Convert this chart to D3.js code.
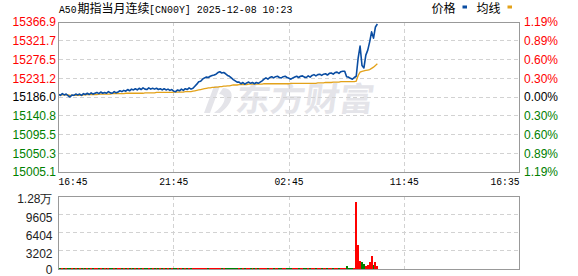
<!DOCTYPE html>
<html>
<head>
<meta charset="utf-8">
<script src="https://cdn.jsdelivr.net/npm/d3@7"></script>
<style>
  html, body { margin: 0; padding: 0; background: #fff; }
  #chart svg { display: block; }
</style>
</head>
<body>
<div id="chart"></div>
<script>
// time axis: minutes since 16:45, one sample every 5 minutes
var stepMinutes = 5;
var xTickMinutes = [0, 300, 600, 900, 1200];
var xTickLabels = ['16:45', '21:45', '02:45', '11:45', '16:35'];

var prevClose = 15186.0;
var priceTicks = [15366.9, 15321.7, 15276.5, 15231.2, 15186.0, 15140.8, 15095.5, 15050.3, 15005.1];
var percentTickLabels = ['1.19%', '0.89%', '0.60%', '0.30%', '0.00%', '0.30%', '0.60%', '0.89%', '1.19%'];

var volumeTicks = [0, 3202, 6404, 9605, 12807];
var volumeTickLabels = ['0', '3202', '6404', '9605', '1.28万'];

var legendNames = ['价格', '均线'];
var titleParts = ['A50', '期指当月连续', '[CN00Y] 2025-12-08 10:23'];

var prices = [
    15192, 15190, 15194, 15191, 15193, 15189, 15186, 15191, 15190, 15193,
    15191, 15193, 15190, 15194, 15192, 15195, 15192, 15196, 15193, 15195,
    15197, 15194, 15198, 15195, 15197, 15195, 15199, 15196, 15195, 15199,
    15196, 15198, 15201, 15199, 15202, 15200, 15204, 15201, 15205, 15203,
    15206, 15203, 15207, 15204, 15208, 15205, 15204, 15208, 15205, 15207,
    15205, 15207, 15204, 15206, 15203, 15206, 15203, 15205, 15202, 15204,
    15200, 15199, 15203, 15201, 15205, 15202, 15206, 15204, 15208, 15205,
    15207, 15212, 15217, 15223, 15224, 15229, 15232, 15234, 15233, 15236,
    15238, 15239, 15241, 15245, 15247, 15244, 15245, 15242, 15238, 15236,
    15232, 15228, 15225, 15222, 15222, 15218, 15221, 15217, 15220, 15222,
    15219, 15221, 15218, 15221, 15219, 15222, 15225, 15229, 15232, 15229,
    15233, 15235, 15232, 15235, 15236, 15233, 15232, 15235, 15236, 15233,
    15231, 15229, 15232, 15234, 15236, 15233, 15236, 15237, 15234, 15233,
    15237, 15234, 15238, 15240, 15237, 15240, 15241, 15238, 15241, 15242,
    15239, 15243, 15244, 15241, 15245, 15246, 15243, 15247, 15248, 15248,
    15235, 15234, 15231, 15229, 15233, 15236, 15280, 15309, 15262, 15256,
    15287, 15299, 15319, 15343, 15328, 15355, 15362
];

var avgPrices = [
    15192, 15191, 15191, 15191, 15191, 15191, 15190, 15190, 15190, 15190,
    15190, 15190, 15190, 15191, 15191, 15192, 15192, 15192, 15192, 15192,
    15192, 15193, 15193, 15193, 15193, 15193, 15193, 15193, 15194, 15194,
    15194, 15194, 15194, 15194, 15194, 15195, 15195, 15195, 15195, 15195,
    15195, 15195, 15195, 15195, 15195, 15196, 15196, 15196, 15196, 15196,
    15196, 15197, 15197, 15197, 15197, 15197, 15197, 15197, 15197, 15197,
    15198, 15198, 15198, 15198, 15198, 15198, 15199, 15199, 15199, 15199,
    15200, 15201, 15202, 15203, 15204, 15205, 15206, 15207, 15208, 15208,
    15209, 15209, 15210, 15210, 15211, 15211, 15212, 15212, 15213, 15213,
    15214, 15215, 15215, 15215, 15216, 15216, 15216, 15216, 15216, 15217,
    15217, 15217, 15217, 15217, 15217, 15217, 15217, 15218, 15218, 15218,
    15218, 15218, 15218, 15218, 15218, 15218, 15218, 15218, 15218, 15218,
    15218, 15219, 15219, 15219, 15219, 15219, 15219, 15219, 15219, 15219,
    15219, 15219, 15219, 15219, 15219, 15220, 15220, 15220, 15220, 15221,
    15221, 15221, 15221, 15222, 15222, 15222, 15222, 15223, 15223, 15223,
    15223, 15223, 15223, 15223, 15223, 15224, 15238, 15246, 15248, 15249,
    15250, 15251, 15252, 15255, 15258, 15262, 15266
];

var volumes = [
    320, 240, 210, 190, 180, 220, 260, 190, 180, 210,
    190, 180, 200, 180, 210, 190, 180, 220, 180, 200,
    190, 210, 180, 180, 200, 190, 220, 180, 180, 210,
    190, 200, 230, 220, 180, 210, 200, 190, 220, 210,
    180, 190, 200, 180, 210, 180, 180, 190, 180, 200,
    180, 180, 190, 180, 180, 180, 190, 180, 180, 200,
    210, 190, 180, 180, 190, 180, 200, 190, 210, 180,
    210, 220, 230, 220, 200, 210, 200, 190, 180, 200,
    210, 190, 200, 220, 200, 190, 180, 190, 200, 190,
    200, 190, 180, 190, 180, 200, 180, 190, 180, 200,
    180, 180, 190, 180, 180, 180, 210, 220, 210, 190,
    200, 190, 180, 180, 190, 180, 180, 180, 190, 180,
    180, 190, 180, 180, 190, 180, 180, 190, 180, 180,
    190, 180, 180, 200, 190, 180, 190, 180, 180, 190,
    180, 200, 190, 180, 200, 190, 180, 210, 200, 220,
    520, 230, 250, 220, 240, 11800, 4200, 1400, 1300, 900,
    550, 700, 1250, 2300, 700, 1300, 600
];

(function(d3) {
    'use strict';

    var settings = {
        width: 578,
        height: 276,
        left: 58.5,
        right: 519.5,
        priceTop: 22,
        priceBottom: 172,
        volumeTop: 196,
        volumeBottom: 269,
        border: '#999',
        grid: '#d2d2d2',
        up: '#ff0000',
        flat: '#000000',
        down: '#008000',
        priceColor: '#0a4da2',
        avgColor: '#e3a21a',
        numFont: '"Liberation Sans", Arial, sans-serif',
        monoFont: '"Liberation Mono", "DejaVu Sans Mono", monospace',
        cjkFont: '"Noto Sans CJK SC", sans-serif'
    };

    var svg = d3.select('#chart').append('svg')
        .attr('width', settings.width)
        .attr('height', settings.height);

    var x = d3.scaleLinear()
        .domain([xTickMinutes[0], xTickMinutes[xTickMinutes.length - 1]])
        .range([settings.left, settings.right]);

    var y = d3.scaleLinear()
        .domain([priceTicks[priceTicks.length - 1], priceTicks[0]])
        .range([settings.priceBottom, settings.priceTop]);

    var yVol = d3.scaleLinear()
        .domain([0, volumeTicks[volumeTicks.length - 1]])
        .range([settings.volumeBottom, settings.volumeTop]);

    function crisp(v) {
        return Math.floor(v) + 0.5;
    }

    function tickColor(v) {
        if (Math.abs(v - prevClose) < 0.05) return settings.flat;
        return v > prevClose ? settings.up : settings.down;
    }

    // title: half-width parts in a narrow mono, CJK in full-width cells
    var titleX = 59;
    titleParts.forEach(function(part) {
        var isCjk = /[\u4e00-\u9fff]/.test(part);
        var w = isCjk ? part.length * 12 : part.length * 6;
        var t = svg.append('text')
            .attr('x', isCjk ? titleX + 0.5 : titleX)
            .attr('y', 13)
            .style('font-family', isCjk ? settings.cjkFont : settings.monoFont)
            .style('font-size', isCjk ? '12px' : '11px')
            .attr('fill', '#000')
            .text(part);
        if (!isCjk) {
            t.attr('textLength', w - 0.5).attr('lengthAdjust', 'spacingAndGlyphs');
        }
        titleX += w;
    });

    // legend
    var legendX = [431.5, 476.5];
    var legendColors = [settings.priceColor, settings.avgColor];
    legendNames.forEach(function(name, i) {
        svg.append('text')
            .attr('x', legendX[i])
            .attr('y', 13)
            .style('font-family', settings.cjkFont)
            .style('font-size', '12px')
            .attr('fill', '#000')
            .text(name);
        svg.append('rect')
            .attr('x', legendX[i] + 31)
            .attr('y', 5.5)
            .attr('width', 4.5)
            .attr('height', 3)
            .attr('fill', legendColors[i]);
    });

    // watermark
    var mark = svg.append('g').attr('fill', '#e4e4e9');
    mark.append('path')
        .attr('d', 'M214,86 L220,86 L210,113 L204,113 Z M223,88 C236,88 234,104 220,113 L214,113 C226,104 228,95 219,94 Z');
    mark.append('text')
        .attr('x', 236)
        .attr('y', 111)
        .attr('transform', 'skewX(-8) translate(14,0)')
        .style('font-family', settings.cjkFont)
        .style('font-size', '33px')
        .style('font-weight', 'bold')
        .attr('textLength', 138)
        .attr('lengthAdjust', 'spacingAndGlyphs')
        .text('东方财富');

    var grid = svg.append('g')
        .attr('stroke', settings.grid)
        .attr('stroke-dasharray', '4,3')
        .attr('shape-rendering', 'crispEdges');

    // vertical grid, both panels
    xTickMinutes.slice(1, -1).forEach(function(m) {
        var gx = crisp(x(m));
        grid.append('line').attr('x1', gx).attr('x2', gx)
            .attr('y1', settings.priceTop).attr('y2', settings.priceBottom);
        grid.append('line').attr('x1', gx).attr('x2', gx)
            .attr('y1', settings.volumeTop).attr('y2', settings.volumeBottom);
    });

    priceTicks.slice(1, -1).forEach(function(v) {
        var gy = crisp(y(v));
        grid.append('line').attr('x1', settings.left).attr('x2', settings.right)
            .attr('y1', gy).attr('y2', gy);
    });

    volumeTicks.slice(1, -1).forEach(function(v) {
        var gy = crisp(yVol(v));
        grid.append('line').attr('x1', settings.left).attr('x2', settings.right)
            .attr('y1', gy).attr('y2', gy);
    });

    // price axis labels
    svg.append('g').selectAll('text')
        .data(priceTicks)
        .enter()
        .append('text')
        .attr('x', 56)
        .attr('y', function(d) { return y(d); })
        .attr('dy', '0.36em')
        .attr('text-anchor', 'end')
        .style('font-family', settings.numFont)
        .style('font-size', '12px')
        .attr('fill', tickColor)
        .text(function(d) { return d.toFixed(1); });

    svg.append('g').selectAll('text')
        .data(priceTicks)
        .enter()
        .append('text')
        .attr('x', 524)
        .attr('y', function(d) { return y(d); })
        .attr('dy', '0.36em')
        .style('font-family', settings.numFont)
        .style('font-size', '12px')
        .attr('fill', tickColor)
        .text(function(d, i) { return percentTickLabels[i]; });

    // volume axis labels, sitting a little under their grid lines
    svg.append('g').selectAll('text')
        .data(volumeTicks)
        .enter()
        .append('text')
        .attr('x', 52.5)
        .attr('y', function(d, i) { return yVol(d) + (i === 0 ? 1 : 3); })
        .attr('dy', '0.36em')
        .attr('text-anchor', 'end')
        .style('font-family', settings.numFont)
        .style('font-size', '12px')
        .attr('fill', '#222')
        .text(function(d, i) { return volumeTickLabels[i]; });

    // time labels
    svg.append('g').selectAll('text')
        .data(xTickMinutes)
        .enter()
        .append('text')
        .attr('x', function(d) { return x(d); })
        .attr('y', 185)
        .attr('text-anchor', function(d, i) {
            if (i === 0) return 'start';
            if (i === xTickMinutes.length - 1) return 'end';
            return 'middle';
        })
        .style('font-family', settings.monoFont)
        .style('font-size', '11px')
        .attr('textLength', 29)
        .attr('lengthAdjust', 'spacingAndGlyphs')
        .attr('fill', '#000')
        .text(function(d, i) { return xTickLabels[i]; });

    // volume bars
    var barW = x(stepMinutes) - x(0);
    svg.append('g')
        .attr('shape-rendering', 'crispEdges')
        .selectAll('rect')
        .data(volumes)
        .enter()
        .append('rect')
        .attr('x', function(d, i) { return x(i * stepMinutes) - barW / 2; })
        .attr('y', function(d) { return yVol(d); })
        .attr('width', barW)
        .attr('height', function(d) { return settings.volumeBottom - yVol(d); })
        .attr('fill', function(d, i) {
            return (i === 0 || prices[i] >= prices[i - 1]) ? settings.up : settings.down;
        });

    // lines
    var line = d3.line()
        .x(function(d, i) { return x(i * stepMinutes); })
        .y(function(d) { return y(d); });

    svg.append('path')
        .datum(avgPrices)
        .attr('fill', 'none')
        .attr('stroke', settings.avgColor)
        .attr('stroke-width', 1.3)
        .attr('d', line);

    svg.append('path')
        .datum(prices)
        .attr('fill', 'none')
        .attr('stroke', settings.priceColor)
        .attr('stroke-width', 1.6)
        .attr('stroke-linejoin', 'round')
        .attr('d', line);

    // panel borders
    [[settings.priceTop, settings.priceBottom], [settings.volumeTop, settings.volumeBottom]].forEach(function(p) {
        svg.append('rect')
            .attr('x', crisp(settings.left))
            .attr('y', crisp(p[0]))
            .attr('width', Math.round(settings.right - settings.left))
            .attr('height', Math.round(p[1] - p[0]))
            .attr('fill', 'none')
            .attr('stroke', settings.border)
            .attr('stroke-width', 1)
            .attr('shape-rendering', 'crispEdges');
    });

})(window.d3);
</script>
</body>
</html>
